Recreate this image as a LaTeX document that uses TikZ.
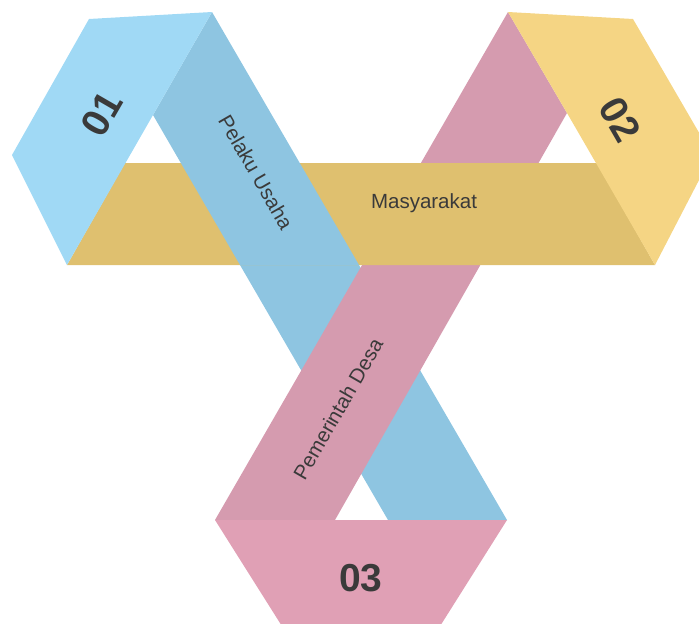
\documentclass[tikz,border=0pt]{standalone}
\usepackage{fontspec}
\setmainfont{Liberation Sans}
\usepackage{tkz-euclide}
\definecolor{BlueClr}{HTML}{A0D9F5}
\definecolor{BlueDarkClr}{HTML}{8EC5E1}
\definecolor{GoldClr}{HTML}{F5D584}
\definecolor{GoldDarkClr}{HTML}{DFC06F}
\definecolor{RoseClr}{HTML}{E0A0B5}
\definecolor{RoseDarkClr}{HTML}{D59BAF}
\definecolor{TxtClr}{HTML}{3A3A3A}

\begin{document}
\begin{tikzpicture}[x=1pt,y=-1pt,
  lbl/.style={text=TxtClr,font=\fontsize{20.5}{24}\selectfont},
  num/.style={text=TxtClr,font=\fontsize{39}{45}\selectfont\bfseries}]
\useasboundingbox (0,0) rectangle (699,624);
\clip (0,0) rectangle (699,624);

\tkzDefPoints{89/19/A,212/12/B,153/115/C,67/265/D,12/155/E}
\tkzDefPoints{359/265/F,240/265/G,507/520/H,388/520/I}
\tkzDefPoints{125/163/J,597/163/K,655/265/L}
\tkzDefPoints{508/12/M,633/19/N,712/155/Q,567/113/R}
\tkzDefPoints{335/520/S,215/520/T,425/650/U,297/650/V}

\tkzFillPolygon[color=BlueDarkClr](G,F,H,I)
\tkzFillPolygon[color=RoseDarkClr](M,R,S,T)
\tkzFillPolygon[color=GoldDarkClr](J,K,L,D)
\tkzFillPolygon[color=GoldClr](M,N,Q,L,R)
\tkzFillPolygon[color=BlueDarkClr](B,F,G,C)
\tkzFillPolygon[color=BlueClr](A,B,C,D,E)
\tkzFillPolygon[color=RoseClr](T,H,U,V)

\node[num,rotate=60] (n01) at (102,114) {01};
\node[num,rotate=-60] (n02) at (620,120) {02};
\node[num] (n03) at (361,578) {03};

\node[lbl,rotate=-60] (pelaku) at (256,172) {Pelaku Usaha};
\node[lbl] (masy) at (424,203) {Masyarakat};
\node[lbl,rotate=60] (pemdes) at (338,409) {Pemerintah Desa};

\end{tikzpicture}
\end{document}
